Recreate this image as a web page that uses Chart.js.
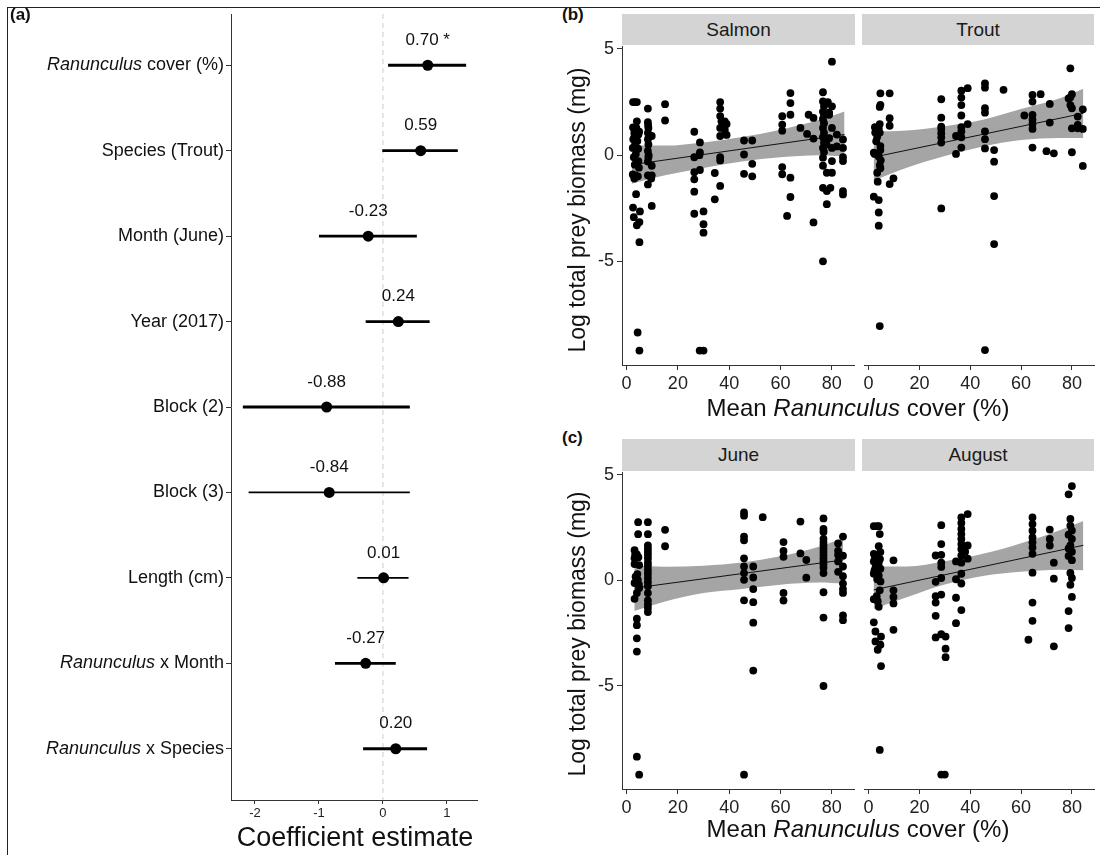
<!DOCTYPE html>
<html>
<head>
<meta charset="utf-8">
<script src="https://cdn.jsdelivr.net/npm/chart.js@4.4.1/dist/chart.umd.min.js"></script>
<style>
html,body{margin:0;padding:0;background:#fff;}
body{width:1100px;height:855px;position:relative;overflow:hidden;font-family:"Liberation Sans",Arial,sans-serif;color:#111;}
canvas{position:absolute;}
.strip{position:absolute;background:#d4d4d4;text-align:center;font-size:19px;color:#1a1a1a;}
.tag{position:absolute;font-weight:bold;font-size:17px;line-height:20px;}
.xt{position:absolute;text-align:center;font-size:24px;line-height:28px;white-space:nowrap;}
.yt{position:absolute;width:340px;height:28px;line-height:28px;text-align:center;font-size:23px;transform:rotate(-90deg);white-space:nowrap;}
</style>
</head>
<body>
<div style="position:absolute;left:7px;top:7px;width:1093px;height:0;border-top:1.5px solid #222"></div>
<div style="position:absolute;left:7px;top:7px;width:0;height:848px;border-left:1.5px solid #222"></div>

<canvas id="cA" width="560" height="855" style="left:0;top:0"></canvas>
<canvas id="cSalmon" width="298" height="367" style="left:560px;top:33px"></canvas>
<canvas id="cTrout" width="240" height="367" style="left:860px;top:33px"></canvas>
<canvas id="cJune" width="298" height="365" style="left:560px;top:459px"></canvas>
<canvas id="cAugust" width="240" height="365" style="left:860px;top:459px"></canvas>

<div class="tag" style="left:10px;top:5px">(a)</div>
<div class="tag" style="left:562px;top:5px">(b)</div>
<div class="tag" style="left:562px;top:428px">(c)</div>

<div class="strip" style="left:622px;top:14px;width:233px;height:31px;line-height:31px">Salmon</div>
<div class="strip" style="left:862px;top:14px;width:232px;height:31px;line-height:31px">Trout</div>
<div class="strip" style="left:622px;top:439px;width:233px;height:32px;line-height:32px">June</div>
<div class="strip" style="left:862px;top:439px;width:232px;height:32px;line-height:32px">August</div>

<div class="xt" style="left:231px;top:822px;width:248px;font-size:27px;line-height:30px">Coefficient estimate</div>
<div class="xt" style="left:622px;top:394px;width:472px">Mean <i>Ranunculus</i> cover (%)</div>
<div class="xt" style="left:622px;top:815px;width:472px">Mean <i>Ranunculus</i> cover (%)</div>
<div class="yt" style="left:407px;top:196px">Log total prey biomass (mg)</div>
<div class="yt" style="left:407px;top:620px">Log total prey biomass (mg)</div>

<script>
// ---------------- DATA ----------------
const terms = ["Ranunculus cover (%)","Species (Trout)","Month (June)","Year (2017)","Block (2)","Block (3)","Length (cm)","Ranunculus x Month","Ranunculus x Species"];
const estimates = [0.70, 0.59, -0.23, 0.24, -0.88, -0.84, 0.01, -0.27, 0.20];
const ciLower   = [0.08, -0.01, -1.00, -0.27, -2.19, -2.10, -0.40, -0.75, -0.31];
const ciUpper   = [1.30, 1.17, 0.53, 0.73, 0.42, 0.42, 0.40, 0.20, 0.69];
const signif    = ["*", "", "", "", "", "", "", "", ""];
const coefTicks = [-2, -1, 0, 1];
const coverTicks = [0, 20, 40, 60, 80];
const biomassTicks = [-5, 0, 5];

const salmonPts = [
 [2.5,2.5],[3.2,2.5],[4,2.5],[4,1.59],[2.5,1.3],[3.8,1.28],[3,1.05],[4.6,0.97],[2.6,0.75],[4.2,0.66],[3.3,0.5],[2.4,0.34],
 [4.5,0.3],[3.6,0.05],[2.8,-0.1],[4.6,-0.28],[3.2,-0.45],[4.8,-0.59],[2.4,-0.91],[3.5,-0.95],[4.4,-1.0],[3,-1.1],[4.9,1.1],[3.1,0.9],
 [3.7,-1.84],[2.5,-2.47],[5.2,-2.65],[2.8,-2.92],[5,-3.15],[4,-3.3],[5,-4.1],[4.3,-8.35],[5,-9.2],
 [8.3,2.19],[8.3,1.55],[8.5,1.28],[8.3,1.05],[9.8,0.9],[8.3,0.75],[8.5,0.5],[8.3,0.2],[8.5,-0.1],[9.8,-0.5],[8.3,-0.95],[9.8,-0.95],
 [8.3,-1.38],[9.8,-2.39],[8.4,1.4],[8.6,0.0],[8.3,-0.3],[9.6,-1.1],
 [15,2.4],[15,1.63],
 [26.4,1.1],[26.4,-0.1],[26.4,-0.8],[26.4,-1.14],[26.4,-1.72],[26.4,-2.76],[28.6,0.6],[28.6,0.13],[28.6,-0.7],[28.4,0.0],
 [30,-2.65],[30,-3.25],[30,-3.65],[28.5,-9.2],[30,-9.2],
 [34.4,-0.84],[34.4,-2.08],
 [36.5,2.5],[36.5,2.19],[36.5,1.84],[37,1.59],[38.3,1.59],[39,1.47],[36.5,1.28],[38.3,1.2],[36.5,0.9],[39,0.95],[36.5,-0.1],[36.5,-0.25],[36.5,-1.45],
 [45.8,0.69],[49,0.69],[45.8,0.03],[49,-0.41],[45.8,-0.88],[49,-1.0],
 [63.9,2.92],[63.9,2.45],[63.9,1.9],[60.7,1.83],[60.7,1.44],[60.7,1.15],[60.7,-0.56],[60.7,-0.9],[63.9,-1.06],[63.9,-1.97],[62.6,-2.86],
 [67.8,1.28],[70.4,1.0],[71,1.9],[72.9,1.75],[72.9,0.78],[72.9,-3.17],
 [80.1,4.4],[76.6,2.96],[76.6,2.53],[77,2.3],[76.6,2.05],[77,1.9],[76.6,1.7],[77,1.5],[76.6,1.28],[77,1.05],[76.6,0.85],[77,0.6],
 [76.6,0.34],[77,0.15],[76.6,-0.12],[76.6,-0.5],[78.1,-0.83],[76.6,-1.54],[78.1,-1.69],[78.1,-2.31],[76.6,-5.0],
 [80.1,2.3],[79,1.9],[80.1,1.28],[79,0.8],[80.1,0.34],[80.1,-0.28],[80.1,-0.83],[79.5,-1.54],[78.5,2.5],[79,2.0],[78,0.5],
 [82,0.97],[84.4,0.74],[82,0.41],[84.4,0.34],[84.4,-0.1],[84.4,-0.28],[84.4,-1.69],[84.4,-1.85]
];
const troutPts = [
 [2.06,0.06],[2.06,-2.0],[2.5,1.25],[3.4,1.05],[3.4,0.8],[4,1.2],[4.4,1.4],[4.65,2.84],[4.4,2.2],[4.65,2.3],[4.4,1.0],[4.65,0.37],
 [4.65,0.18],[4,-0.12],[4.4,-0.52],[4.65,-0.67],[3.4,-0.88],[3.6,-1.3],[4,-2.16],[4,-2.74],[4,-3.36],[4.4,-8.06],[2.6,1.0],[3.0,0.6],[4.8,-0.3],[2.4,0.0],
 [8.3,2.84],[8.3,1.67],[8.3,1.32],[8.3,-1.41],[9.8,-1.14],
 [28.6,2.56],[28.6,1.7],[28.6,1.28],[28.6,1.17],[28.6,0.97],[28.6,0.78],[28.6,0.53],[28.6,-2.55],
 [34.4,0.84],[34.4,0],
 [36.5,2.96],[36.5,2.64],[36.5,2.29],[36.5,1.8],[36.5,1.25],[36.5,1.05],[36.5,0.78],[36.5,0.3],
 [39,3.08],[39,1.4],
 [45.8,3.3],[45.8,3.1],[45.8,2.14],[45.8,1.93],[45.8,1.05],[45.8,0.69],[45.8,0.26],[45.8,-9.18],
 [49.4,0.18],[49.4,-0.36],[49.4,-1.97],[49.4,-4.22],
 [53.1,3.0],[61.3,1.8],
 [64.5,2.76],[64.5,2.45],[64.5,1.83],[64.5,1.6],[64.5,1.4],[64.5,1.17],[64.5,0.3],
 [67.7,2.8],[70,0.13],[71.3,2.34],[71.3,1.47],[72.9,0.03],
 [79.4,4.01],[80,2.8],[79.4,2.65],[79.4,2.29],[80,2.14],[80,1.2],[80,0.08],[78.7,2.6],
 [82.3,1.75],[82.3,1.36],[82.3,1.2],[84.3,2.09],[84.3,1.17],[84.3,-0.56]
];
const junePts = [
 [4.5,2.76],[4.5,2.19],[3.1,1.43],[4,1.24],[3.1,1.05],[4.9,0.73],[3.1,0.78],[3.5,0.18],[4.4,0.03],[3.1,-0.12],[4.9,-0.36],[4,-0.59],
 [3.1,-0.87],[4.6,1.1],[3.3,1.2],[4.2,0.3],[4.8,-0.2],
 [4,-1.81],[4,-2.12],[4,-2.74],[4,-3.37],[4,-8.35],[4.9,-9.2],
 [8.3,2.76],[8.3,2.19],[8.3,1.66],[8.3,1.5],[8.3,1.35],[8.3,1.2],[8.3,1.05],[8.3,0.85],[8.3,0.7],[8.3,0.5],[8.3,0.32],[8.3,0.12],
 [8.3,-0.08],[8.3,-0.28],[8.3,-0.6],[8.3,-0.94],[8.3,-1.14],[8.3,-1.3],[8.3,-1.5],
 [15,2.4],[15,1.62],
 [45.8,3.22],[45.8,3.07],[45.8,2.08],[45.8,1.9],[45.8,1.05],[45.8,0.66],[45.8,0.35],[45.8,0.03],[45.8,-0.94],[45.8,-9.2],
 [49.4,0.66],[49.4,0.14],[49.4,-0.41],[49.4,-1.03],[49.4,-2.0],[49.4,-4.27],
 [53.1,3.0],
 [61.2,1.82],[61.2,1.4],[61.2,1.12],[61.2,-0.59],[61.2,-0.95],
 [67.8,2.79],[67.8,1.28],[70.1,0.97],[70.1,0.13],
 [76.8,2.94],[76.8,2.44],[76.8,2.3],[76.8,1.97],[76.8,1.8],[76.8,1.65],[76.8,1.5],[76.8,1.35],[76.8,1.2],[76.8,1.05],[76.8,0.9],
 [76.8,0.75],[76.8,0.6],[76.8,0.35],[76.8,-0.56],[76.8,-1.76],[76.8,-5.0],
 [82.5,1.75],[82.5,1.4],[82.5,1.2],[82.5,0.9],[82.5,0.41],
 [84.4,2.08],[84.4,1.17],[84.4,0.66],[84.4,0.2],[84.4,-0.15],[84.4,-0.41],[84.4,-0.59],[84.4,-1.66],[84.4,-1.88]
];
const augustPts = [
 [2.06,2.5],[3.4,2.5],[4,2.5],[4.4,2.13],[4,1.56],[2.06,1.2],[3.4,1.12],[4.65,1.28],[2.06,0.84],[4,0.78],[2.7,0.53],[4.65,0.5],
 [2.06,0.26],[4,0.18],[3.4,0],[4.4,-0.52],[2.06,-0.94],[3.6,-1.03],[4,-1.3],[2.06,-2.03],[2.7,-2.46],[4.9,-2.7],[2.7,-2.93],
 [4.65,-3.08],[3.6,-3.32],[4.9,-4.09],[4.4,-8.04],[2.5,1.0],[3.0,0.7],[4.5,0.95],[2.3,0.4],[4.7,-0.1],[3.2,-0.8],
 [9.8,0.89],[9.8,-0.52],[9.8,-0.83],[9.8,-1.14],[9.8,-2.38],
 [26.4,1.12],[26.4,-0.12],[26.4,-1.1],[26.4,-1.72],[26.4,-2.74],[26.4,-0.8],
 [28.6,2.55],[28.6,1.66],[28.6,1.15],[28.6,0.78],[28.6,0.58],[28.6,0.06],[28.6,-0.72],[28.6,-2.59],
 [30.3,-2.7],[30.3,-3.27],[30.3,-3.67],[28.6,-9.2],[30,-9.2],
 [34.4,0.84],[34.4,0],[34.4,-0.87],[34.4,-2.07],
 [36.5,2.91],[36.5,2.65],[36.5,2.37],[36.5,2.13],[36.5,1.9],[36.5,1.66],[36.5,1.43],[36.5,1.12],[36.5,0.78],[36.5,0.26],[36.5,-0.2],[36.5,-1.45],
 [39,3.07],[39,1.59],[39,0.97],[38,1.3],
 [62.9,-2.85],
 [64.5,2.91],[64.5,2.6],[64.5,2.29],[64.5,1.97],[64.5,1.74],[64.5,1.5],[64.5,1.2],[64.5,0.31],[64.5,-1.1],[64.5,-1.96],
 [71.3,2.34],[71.3,1.9],[71.3,1.59],[72.9,0.78],[72.9,0.03],[72.9,-3.16],
 [80,4.39],[78.7,4.0],[79.4,2.84],[79.4,2.53],[80,2.3],[78.7,2.1],[80,1.9],[79.4,1.6],[80,1.3],[78.7,1.1],[79.4,0.3],[80,0.06],
 [79.4,-0.26],[80,-0.83],[78.7,-1.5],[78.7,-2.3],[80,0.9],[78.7,1.45]
];

// fitted lines and confidence bands
const salmonLine = [[2,-0.45],[85,0.97]];
const salmonBandX = [2, 15, 30, 45, 60, 75, 85];
const salmonBandHi = [0.45, 0.45, 0.6, 0.85, 1.2, 1.65, 2.05];
const salmonBandLo = [-1.35, -0.95, -0.6, -0.3, -0.1, 0.0, -0.05];

const troutLine = [[2,-0.15],[84.5,1.9]];
const troutBandX = [2, 15, 30, 45, 60, 75, 84.5];
const troutBandHi = [1.05, 1.1, 1.3, 1.6, 2.1, 2.6, 3.05];
const troutBandLo = [-1.25, -0.65, -0.1, 0.35, 0.65, 0.75, 0.75];

const juneLine = [[3,-0.36],[84.5,0.97]];
const juneBandX = [3, 15, 30, 45, 60, 75, 84.5];
const juneBandHi = [0.72, 0.65, 0.7, 0.85, 1.15, 1.6, 2.0];
const juneBandLo = [-1.45, -1.0, -0.6, -0.4, -0.2, -0.1, -0.15];

const augustLine = [[2,-0.5],[84.5,1.6]];
const augustBandX = [2, 15, 30, 45, 60, 75, 84.5];
const augustBandHi = [0.6, 0.6, 0.85, 1.2, 1.7, 2.3, 2.75];
const augustBandLo = [-1.4, -0.85, -0.25, 0.15, 0.35, 0.45, 0.42];

// ---------------- CHARTS ----------------
const FAM = '"Liberation Sans", Arial, sans-serif';
Chart.defaults.font.family = FAM;
Chart.defaults.color = '#111';

const ciLineWidth = [2.8, 2.8, 2.8, 2.8, 2.8, 1.8, 1.8, 2.8, 2.8];

const coefLabels = {
  id: 'coefLabels',
  afterDraw(chart) {
    const ctx = chart.ctx, ys = chart.scales.y, xs = chart.scales.x;
    ctx.save();
    ctx.fillStyle = '#111';
    ctx.textBaseline = 'middle';
    terms.forEach((t, i) => {
      const py = ys.getPixelForValue(i + 1);
      let ital = '', rest = t;
      if (t.startsWith('Ranunculus')) { ital = 'Ranunculus'; rest = t.slice(10); }
      ctx.font = '18px ' + FAM;
      ctx.textAlign = 'right';
      const rw = ctx.measureText(rest).width;
      ctx.fillText(rest, 224, py);
      if (ital) { ctx.font = 'italic 18px ' + FAM; ctx.fillText(ital, 224 - rw, py); }
      ctx.font = '17px ' + FAM;
      ctx.textAlign = 'center';
      const lbl = estimates[i].toFixed(2) + (signif[i] ? ' ' + signif[i] : '');
      ctx.fillText(lbl, xs.getPixelForValue(estimates[i]), py - 25);
    });
    ctx.restore();
  }
};

const ciSets = terms.map((t, i) => ({
  data: [{x: ciLower[i], y: i + 1}, {x: ciUpper[i], y: i + 1}],
  showLine: true, borderColor: '#000', borderWidth: ciLineWidth[i], pointRadius: 0, order: 1
}));

new Chart(document.getElementById('cA'), {
  type: 'scatter',
  data: { datasets: [
    { data: estimates.map((e, i) => ({x: e, y: i + 1})), pointRadius: 5.5, backgroundColor: '#000', borderWidth: 0, order: 0 },
    ...ciSets,
    { data: [{x: 0, y: 0.4}, {x: 0, y: 9.6}], showLine: true, borderColor: '#cccccc', borderDash: [5, 4], borderWidth: 1, pointRadius: 0, order: 5 }
  ]},
  options: {
    animation: false, responsive: false, devicePixelRatio: 1,
    layout: { padding: { left: 0, top: 14, right: 83, bottom: 0 } },
    plugins: { legend: { display: false }, tooltip: { enabled: false } },
    scales: {
      x: { type: 'linear', min: -2.375, max: 1.47,
        afterBuildTicks: s => { s.ticks = coefTicks.map(v => ({value: v})); },
        afterFit: s => { s.height = 55; },
        grid: { drawOnChartArea: false, drawTicks: true, tickLength: 4, color: '#333' },
        border: { color: '#333', width: 1 },
        ticks: { font: { size: 13 }, color: '#222', padding: 2, maxRotation: 0 } },
      y: { type: 'linear', min: 0.4, max: 9.6, reverse: true,
        afterBuildTicks: s => { s.ticks = terms.map((t, i) => ({value: i + 1})); },
        afterFit: s => { s.width = 231; },
        grid: { drawOnChartArea: false, drawTicks: true, tickLength: 5, color: '#333' },
        border: { color: '#333', width: 1 },
        ticks: { display: false } }
    }
  },
  plugins: [coefLabels]
});

function facet(id, pts, line, bx, hi, lo, showY, padL, padR) {
  const mk = (xs, ys) => xs.map((x, i) => ({x: x, y: ys[i]}));
  return new Chart(document.getElementById(id), {
    type: 'scatter',
    data: { datasets: [
      { data: pts.map(p => ({x: p[0], y: p[1]})), pointRadius: 3.9, backgroundColor: '#000', borderWidth: 0, order: 0 },
      { data: line.map(p => ({x: p[0], y: p[1]})), showLine: true, borderColor: '#111', borderWidth: 1, pointRadius: 0, order: 1 },
      { data: mk(bx, hi), showLine: true, borderColor: 'rgba(0,0,0,0)', borderWidth: 0, pointRadius: 0,
        fill: '+1', backgroundColor: '#a5a5a5', cubicInterpolationMode: 'monotone', order: 2 },
      { data: mk(bx, lo), showLine: true, borderColor: 'rgba(0,0,0,0)', borderWidth: 0, pointRadius: 0,
        fill: false, cubicInterpolationMode: 'monotone', order: 3 }
    ]},
    options: {
      animation: false, responsive: false, devicePixelRatio: 1,
      layout: { padding: { left: padL, top: 12, right: padR, bottom: 0 } },
      plugins: { legend: { display: false }, tooltip: { enabled: false } },
      scales: {
        x: { type: 'linear', min: -1.8, max: 88.7,
          afterBuildTicks: s => { s.ticks = coverTicks.map(v => ({value: v})); },
          afterFit: s => { s.height = 35; },
          grid: { drawOnChartArea: false, drawTicks: true, tickLength: 5, color: '#333' },
          border: { color: '#333', width: 1 },
          ticks: { font: { size: 18 }, color: '#222', padding: 3, maxRotation: 0 } },
        y: { type: 'linear', min: -9.88, max: 5.1, display: showY,
          afterBuildTicks: s => { s.ticks = biomassTicks.map(v => ({value: v})); },
          afterFit: s => { s.width = showY ? 62 : 0; },
          grid: { display: showY, drawOnChartArea: false, drawTicks: true, tickLength: 5, color: '#333' },
          border: { display: showY, color: '#333', width: 1 },
          ticks: { display: showY, font: { size: 18 }, color: '#222', padding: 3 } }
      }
    }
  });
}

facet('cSalmon', salmonPts, salmonLine, salmonBandX, salmonBandHi, salmonBandLo, true, 0, 3);
facet('cTrout', troutPts, troutLine, troutBandX, troutBandHi, troutBandLo, false, 2, 6);
facet('cJune', junePts, juneLine, juneBandX, juneBandHi, juneBandLo, true, 0, 3);
facet('cAugust', augustPts, augustLine, augustBandX, augustBandHi, augustBandLo, false, 2, 6);
</script>
</body>
</html>
